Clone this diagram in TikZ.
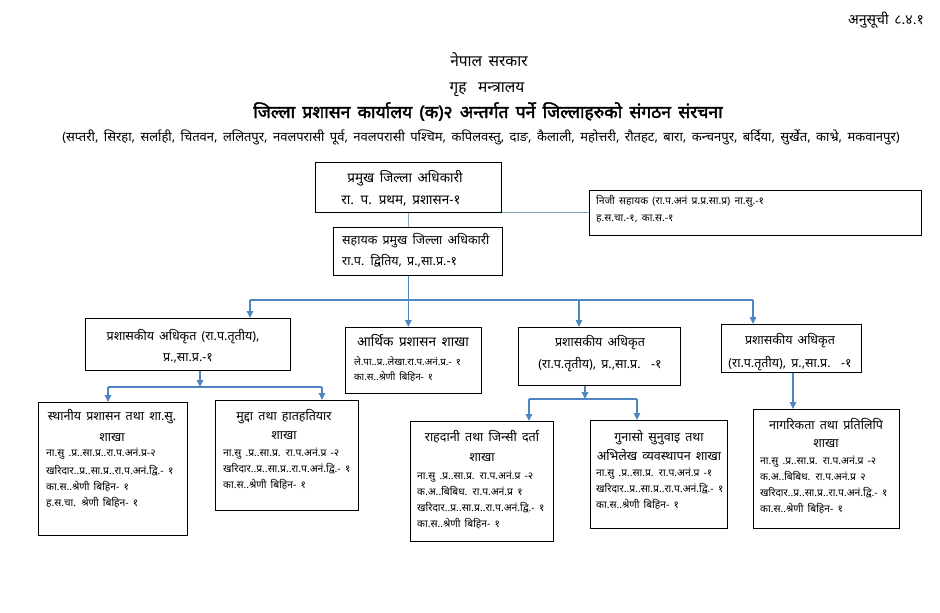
\documentclass[tikz,border=0pt]{standalone}
\usepackage{fontspec}
\setmainfont{Noto Sans}[Script=Devanagari, WordSpace=1.6]
\newfontfamily\boldtitle{Noto Sans}[Script=Devanagari, WordSpace=1.6, FakeBold=2.2]
\usetikzlibrary{arrows.meta}
\definecolor{arr}{RGB}{79,134,192}
\definecolor{lite}{RGB}{130,170,182}
\newcommand\fs[1]{\fontsize{#1}{#1}\selectfont}
\begin{document}
\begin{tikzpicture}[x=1pt,y=-1pt,
  box/.style={draw, line width=0.8pt, inner sep=0pt, anchor=north west},
  lt/.style={inner sep=0pt, anchor=base},
  ltl/.style={inner sep=0pt, anchor=base west},
  conn/.style={draw=arr, line width=1.4pt},
  arrw/.style={conn, -{Triangle[length=7pt,width=6.5pt]}},
  thinl/.style={draw=lite, line width=1pt},
  hd/.style={lt, font=\fs{12.5}},
  dt/.style={ltl, font=\fs{10.3}},
  mid/.style={lt, font=\fs{12.5}}]
\useasboundingbox[fill=white] (0,0) rectangle (940,613);

% header
\node[inner sep=0pt, anchor=base east, font=\fs{14}] (anu) at (924,24) {अनुसूची ८.४.१};
\node[lt, font=\fs{15.5}] (h1) at (489,66.5) {नेपाल सरकार};
\node[lt, font=\fs{15.5}] (h2) at (487,92.5) {गृह\hspace{5pt} मन्त्रालय};
\node[lt, font=\boldtitle\fs{17.5}] (h3) at (488,118) {जिल्ला प्रशासन कार्यालय (क)२ अन्तर्गत पर्ने जिल्लाहरुको संगठन संरचना};
\node[lt, font=\fs{13}] (h4) at (481,141) {(सप्तरी, सिरहा, सर्लाही, चितवन, ललितपुर, नवलपरासी पूर्व, नवलपरासी पश्चिम, कपिलवस्तु, दाङ, कैलाली, महोत्तरी, रौतहट, बारा, कन्चनपुर, बर्दिया, सुर्खेत, काभ्रे, मकवानपुर)};

% boxes
\node[box, minimum width=186pt, minimum height=50pt] (top) at (315,162) {};
\node[box, minimum width=332pt, minimum height=45pt] (niji) at (589,190) {};
\node[box, minimum width=169pt, minimum height=48pt] (sah) at (333,227) {};
\node[box, minimum width=205pt, minimum height=52pt] (b1) at (85,318) {};
\node[box, minimum width=136pt, minimum height=66pt] (b2) at (345,327) {};
\node[box, minimum width=162pt, minimum height=58pt] (b3) at (518,327) {};
\node[box, minimum width=140pt, minimum height=48pt] (b4) at (721,324) {};
\node[box, minimum width=149pt, minimum height=133pt] (b5) at (38,402) {};
\node[box, minimum width=143pt, minimum height=110pt] (b6) at (215,400) {};
\node[box, minimum width=143pt, minimum height=120pt] (b7) at (410,421) {};
\node[box, minimum width=137pt, minimum height=108pt] (b8) at (590,420) {};
\node[box, minimum width=146pt, minimum height=119pt] (b9) at (753,409) {};

% texts
\node[lt, font=\fs{13.5}] (t01) at (405,182) {प्रमुख जिल्ला अधिकारी};
\node[lt, font=\fs{13.5}] (t02) at (401,204) {रा. प. प्रथम, प्रशासन-१};
\node[ltl, font=\fs{10.3}] (t03) at (596,204) {निजी सहायक (रा.प.अनं प्र.प्र.सा.प्र) ना.सु.-१};
\node[ltl, font=\fs{10.3}] (t04) at (596,221) {ह.स.चा.-१, का.स.-१};
\node[ltl, font=\fs{12.5}] (t05) at (342,244) {सहायक प्रमुख जिल्ला अधिकारी};
\node[ltl, font=\fs{12.5}] (t06) at (342,265) {रा.प. द्वितिय, प्र.,सा.प्र.-१};

\node[mid] (t07) at (183,340) {प्रशासकीय अधिकृत (रा.प.तृतीय),};
\node[mid] (t08) at (188,361) {प्र.,सा.प्र.-१};

\node[lt, font=\fs{13.5}] (t09) at (413,346) {आर्थिक प्रशासन शाखा};
\node[ltl, font=\fs{9.8}] (t10) at (354,365) {ले.पा..प्र..लेखा.रा.प.अनं.प्र.- १};
\node[ltl, font=\fs{9.8}] (t11) at (354,380) {का.स..श्रेणी बिहिन- १};

\node[mid] (t12) at (600,346) {प्रशासकीय अधिकृत};
\node[mid] (t13) at (600,368) {(रा.प.तृतीय), प्र.,सा.प्र.~~-१};
\node[mid] (t14) at (790,344) {प्रशासकीय अधिकृत};
\node[mid] (t15) at (790,367) {(रा.प.तृतीय), प्र.,सा.प्र.~~-१};

% box 5
\node[hd] (t16) at (112,420) {स्थानीय प्रशासन तथा शा.सु.};
\node[hd] (t17) at (112,441) {शाखा};
\node[dt] (t18) at (46,456) {ना.सु .प्र..सा.प्र..रा.प.अनं.प्र-२};
\node[dt] (t19) at (46,474) {खरिदार..प्र..सा.प्र..रा.प.अनं.द्वि.- १};
\node[dt] (t20) at (46,490) {का.स..श्रेणी बिहिन- १};
\node[dt] (t21) at (46,506) {ह.स.चा. श्रेणी बिहिन- १};
% box 6
\node[hd] (t22) at (284,420) {मुद्दा तथा हातहतियार};
\node[hd] (t23) at (284,439) {शाखा};
\node[dt] (t24) at (223,456) {ना.सु .प्र..सा.प्र. रा.प.अनं.प्र -२};
\node[dt] (t25) at (223,472) {खरिदार..प्र..सा.प्र..रा.प.अनं.द्वि.- १};
\node[dt] (t26) at (223,488) {का.स..श्रेणी बिहिन- १};
% box 7
\node[hd] (t27) at (482,441) {राहदानी तथा जिन्सी दर्ता};
\node[hd] (t28) at (482,461) {शाखा};
\node[dt] (t29) at (417,479) {ना.सु .प्र..सा.प्र. रा.प.अनं.प्र -२};
\node[dt] (t30) at (417,495) {क.अ..बिबिध. रा.प.अनं.प्र १};
\node[dt] (t31) at (417,511) {खरिदार..प्र..सा.प्र..रा.प.अनं.द्वि.- १};
\node[dt] (t32) at (417,527) {का.स..श्रेणी बिहिन- १};
% box 8
\node[hd] (t33) at (659,441) {गुनासो सुनुवाइ तथा};
\node[hd] (t34) at (659,460) {अभिलेख व्यवस्थापन शाखा};
\node[dt] (t35) at (596,476) {ना.सु .प्र..सा.प्र. रा.प.अनं.प्र -१};
\node[dt] (t36) at (596,492) {खरिदार..प्र..सा.प्र..रा.प.अनं.द्वि.- १};
\node[dt] (t37) at (596,508) {का.स..श्रेणी बिहिन- १};
% box 9
\node[hd] (t38) at (826,429) {नागरिकता तथा प्रतिलिपि};
\node[hd] (t39) at (826,447) {शाखा};
\node[dt] (t40) at (760,464) {ना.सु .प्र..सा.प्र. रा.प.अनं.प्र -२};
\node[dt] (t41) at (760,480) {क.अ..बिबिध. रा.प.अनं.प्र २};
\node[dt] (t42) at (760,496) {खरिदार..प्र..सा.प्र..रा.प.अनं.द्वि.- १};
\node[dt] (t43) at (760,512) {का.स..श्रेणी बिहिन- १};

% connectors
\draw[thinl] (top.south) -- (top.south |- sah.north);
\draw[thinl] (niji.west) -- (niji.west -| top.east);
\draw[arrw] (sah.south -| top.south) -- (b2.north -| top.south);
\coordinate (jl) at (250,300);
\coordinate (jr) at (753,300);
\coordinate (j3) at (579,300);
\draw[conn] (jl) -- (jr);
\draw[arrw] (jl) -- (jl |- b1.north);
\draw[arrw] (jr) -- (jr |- b4.north);
\draw[arrw] (j3) -- (j3 |- b3.north);
\coordinate (k1) at (200,387);
\coordinate (k1l) at (108,387);
\coordinate (k1r) at (322,387);
\draw[arrw] (b1.south -| k1) -- (k1);
\draw[conn] (k1l) -- (k1r);
\draw[arrw] (k1l) -- (k1l |- b5.north);
\draw[arrw] (k1r) -- (k1r |- b6.north);
\coordinate (k3) at (585,399);
\coordinate (k3l) at (529,399);
\coordinate (k3r) at (637,399);
\draw[arrw] (b3.south -| k3) -- (k3);
\draw[conn] (k3l) -- (k3r);
\draw[arrw] (k3l) -- (k3l |- b7.north);
\draw[arrw] (k3r) -- (k3r |- b8.north);
\coordinate (k4) at (793,390);
\draw[arrw] (b4.south -| k4) -- (b9.north -| k4);
\end{tikzpicture}
\end{document}
